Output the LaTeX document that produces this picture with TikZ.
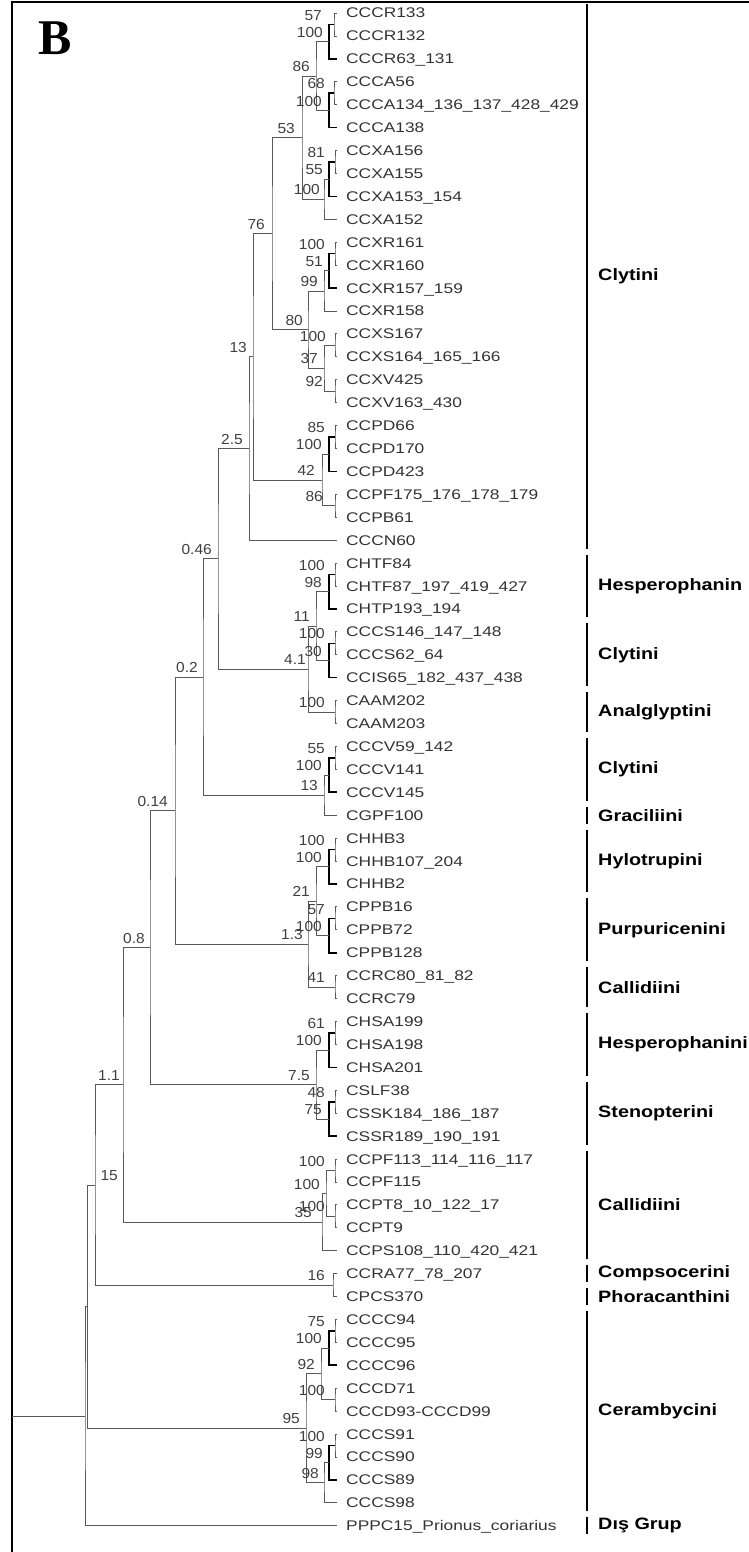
\documentclass[tikz,border=0pt]{standalone}
\usepackage{fontspec}
\setmainfont{Liberation Sans}
\newfontfamily\leaffont[FakeStretch=1.24]{Liberation Sans}
\newfontfamily\bsfont[FakeStretch=1.07]{Liberation Sans}
\newfontfamily\tribefont[FakeStretch=1.2]{Liberation Sans}
\newfontfamily\panelfont{Liberation Serif}

\begin{document}
\begin{tikzpicture}[x=1pt, y=-1pt,
  br/.style={draw=black!65, line width=0.8pt},
  tk/.style={draw=black, line width=1.6pt},
  leaf/.style={anchor=west, inner xsep=9pt, inner ysep=0pt, text height=10pt, text depth=0pt,
    text=black!80, font=\leaffont\fontsize{14}{14}\selectfont},
  bs/.style={anchor=south east, inner sep=0pt, text=black!75, font=\bsfont\fontsize{14.5}{14.5}\selectfont},
  tribe/.style={anchor=west, inner sep=0pt, font=\tribefont\bfseries\fontsize{16.5}{16.5}\selectfont},
  bar/.style={line width=2.5pt}]

  \useasboundingbox (0,0) rectangle (749,1552);
  \draw[line width=2.5pt] (12,1552) -- (12,2) -- (749,2);
  \node[anchor=base west, inner sep=0pt, font=\panelfont\bfseries\fontsize{50}{50}\selectfont] (panel) at (38,55) {B};

  % leaves
  \foreach \t [count=\i] in {CCCR133, CCCR132, CCCR63\_131, CCCA56, CCCA134\_136\_137\_428\_429,
      CCCA138, CCXA156, CCXA155, CCXA153\_154, CCXA152, CCXR161, CCXR160, CCXR157\_159,
      CCXR158, CCXS167, CCXS164\_165\_166, CCXV425, CCXV163\_430, CCPD66, CCPD170, CCPD423,
      CCPF175\_176\_178\_179, CCPB61, CCCN60, CHTF84, CHTF87\_197\_419\_427, CHTP193\_194,
      CCCS146\_147\_148, CCCS62\_64, CCIS65\_182\_437\_438, CAAM202, CAAM203, CCCV59\_142,
      CCCV141, CCCV145, CGPF100, CHHB3, CHHB107\_204, CHHB2, CPPB16, CPPB72, CPPB128,
      CCRC80\_81\_82, CCRC79, CHSA199, CHSA198, CHSA201, CSLF38, CSSK184\_186\_187,
      CSSR189\_190\_191, CCPF113\_114\_116\_117, CCPF115, CCPT8\_10\_122\_17, CCPT9,
      CCPS108\_110\_420\_421, CCRA77\_78\_207, CPCS370, CCCC94, CCCC95, CCCC96, CCCD71,
      CCCD93-CCCD99, CCCS91, CCCS90, CCCS89, CCCS98, PPPC15\_Prionus\_coriarius}
    \node[leaf] (L\i) at (337,{13+(\i-1)*22.92}) {\t};

  % internal nodes
  \coordinate (a1) at (334,24.46);   \coordinate (a2) at (329,41.65);
  \coordinate (b1) at (334,93.22);   \coordinate (b2) at (329,110.41);
  \coordinate (ab) at (316,76.03);
  \coordinate (c1) at (335,161.98);  \coordinate (c2) at (329,179.17);
  \coordinate (c3) at (324,199.23);  \coordinate (abc) at (302,137.63);
  \coordinate (d1) at (335,253.66);  \coordinate (d2) at (329,270.85);
  \coordinate (d3) at (324,290.91);
  \coordinate (e1) at (335,345.34);  \coordinate (e2) at (335,391.18);
  \coordinate (e3) at (324,368.26);  \coordinate (de) at (308,329.59);
  \coordinate (ae) at (272,233.61);
  \coordinate (f1) at (335,437.02);  \coordinate (f2) at (329,454.21);
  \coordinate (f3) at (335,505.78);  \coordinate (f4) at (322,480.0);
  \coordinate (g) at (253,356.8);    \coordinate (h) at (249,448.48);
  \coordinate (j1) at (335,574.54);  \coordinate (j2) at (329,591.73);
  \coordinate (k1) at (335,643.3);   \coordinate (k2) at (329,660.49);
  \coordinate (jk) at (316,626.11);  \coordinate (l1) at (335,712.06);
  \coordinate (jl) at (308,669.09);  \coordinate (i) at (218,558.78);
  \coordinate (n1) at (335,757.9);   \coordinate (n2) at (329,775.09);
  \coordinate (n3) at (324,795.15);  \coordinate (m) at (203,676.96);
  \coordinate (o1) at (335,849.58);  \coordinate (o2) at (329,866.77);
  \coordinate (p1) at (335,918.34);  \coordinate (p2) at (329,935.53);
  \coordinate (op) at (316,901.15);  \coordinate (q1) at (335,987.1);
  \coordinate (oq) at (308,944.13);  \coordinate (r) at (175,810.54);
  \coordinate (s1) at (335,1032.94); \coordinate (s2) at (329,1050.13);
  \coordinate (t1) at (335,1101.7);  \coordinate (t2) at (329,1118.89);
  \coordinate (st) at (316,1084.51); \coordinate (u) at (150,947.53);
  \coordinate (v1) at (335,1170.46); \coordinate (v2) at (335,1216.3);
  \coordinate (v3) at (326,1193.38); \coordinate (w) at (322,1222.03);
  \coordinate (xx) at (123,1084.78);
  \coordinate (y1) at (333,1285.06); \coordinate (z) at (95,1184.92);
  \coordinate (aa1) at (335,1330.9); \coordinate (aa2) at (329,1348.09);
  \coordinate (bb1) at (335,1399.66); \coordinate (cc) at (321,1373.88);
  \coordinate (dd1) at (335,1445.5); \coordinate (dd2) at (329,1462.69);
  \coordinate (dd3) at (324,1482.75); \coordinate (ee) at (306,1428.31);
  \coordinate (core) at (87.5,1306.62); \coordinate (root) at (85,1416.17);
  \coordinate (base) at (12,1416.17);

  % branches
  \draw[br] (L1.west) -| (a1) |- (L2.west);
  \draw[tk] (a1) -| (a2) |- (L3.west);
  \draw[br] (L4.west) -| (b1) |- (L5.west);
  \draw[tk] (b1) -| (b2) |- (L6.west);
  \draw[br] (a2) -| (ab) |- (b2);
  \draw[br] (L7.west) -| (c1) |- (L8.west);
  \draw[tk] (c1) -| (c2) |- (L9.west);
  \draw[br] (c2) -| (c3) |- (L10.west);
  \draw[br] (ab) -| (abc) |- (c3);
  \draw[br] (L11.west) -| (d1) |- (L12.west);
  \draw[tk] (d1) -| (d2) |- (L13.west);
  \draw[br] (d2) -| (d3) |- (L14.west);
  \draw[br] (L15.west) -| (e1) |- (L16.west);
  \draw[br] (L17.west) -| (e2) |- (L18.west);
  \draw[br] (e1) -| (e3) |- (e2);
  \draw[br] (d3) -| (de) |- (e3);
  \draw[br] (abc) -| (ae) |- (de);
  \draw[br] (L19.west) -| (f1) |- (L20.west);
  \draw[tk] (f1) -| (f2) |- (L21.west);
  \draw[br] (L22.west) -| (f3) |- (L23.west);
  \draw[br] (f2) -| (f4) |- (f3);
  \draw[br] (ae) -| (g) |- (f4);
  \draw[br] (g) -| (h) |- (L24.west);
  \draw[br] (L25.west) -| (j1) |- (L26.west);
  \draw[tk] (j1) -| (j2) |- (L27.west);
  \draw[br] (L28.west) -| (k1) |- (L29.west);
  \draw[tk] (k1) -| (k2) |- (L30.west);
  \draw[br] (j2) -| (jk) |- (k2);
  \draw[br] (L31.west) -| (l1) |- (L32.west);
  \draw[br] (jk) -| (jl) |- (l1);
  \draw[br] (h) -| (i) |- (jl);
  \draw[br] (L33.west) -| (n1) |- (L34.west);
  \draw[tk] (n1) -| (n2) |- (L35.west);
  \draw[br] (n2) -| (n3) |- (L36.west);
  \draw[br] (i) -| (m) |- (n3);
  \draw[br] (L37.west) -| (o1) |- (L38.west);
  \draw[tk] (o1) -| (o2) |- (L39.west);
  \draw[br] (L40.west) -| (p1) |- (L41.west);
  \draw[tk] (p1) -| (p2) |- (L42.west);
  \draw[br] (o2) -| (op) |- (p2);
  \draw[br] (L43.west) -| (q1) |- (L44.west);
  \draw[br] (op) -| (oq) |- (q1);
  \draw[br] (m) -| (r) |- (oq);
  \draw[br] (L45.west) -| (s1) |- (L46.west);
  \draw[tk] (s1) -| (s2) |- (L47.west);
  \draw[br] (L48.west) -| (t1) |- (L49.west);
  \draw[tk] (t1) -| (t2) |- (L50.west);
  \draw[br] (s2) -| (st) |- (t2);
  \draw[br] (r) -| (u) |- (st);
  \draw[br] (L51.west) -| (v1) |- (L52.west);
  \draw[br] (L53.west) -| (v2) |- (L54.west);
  \draw[br] (v1) -| (v3) |- (v2);
  \draw[br] (v3) -| (w) |- (L55.west);
  \draw[br] (u) -| (xx) |- (w);
  \draw[br] (L56.west) -| (y1) |- (L57.west);
  \draw[br] (xx) -| (z) |- (y1);
  \draw[br] (L58.west) -| (aa1) |- (L59.west);
  \draw[tk] (aa1) -| (aa2) |- (L60.west);
  \draw[br] (L61.west) -| (bb1) |- (L62.west);
  \draw[br] (aa2) -| (cc) |- (bb1);
  \draw[br] (L63.west) -| (dd1) |- (L64.west);
  \draw[tk] (dd1) -| (dd2) |- (L65.west);
  \draw[br] (dd2) -| (dd3) |- (L66.west);
  \draw[br] (cc) -| (ee) |- (dd3);
  \draw[br] (z) -| (core) |- (ee);
  \draw[br] (core) -| (root) |- (L67.west);
  \draw[br] (base) -- (root);

  % support values
  \foreach \n/\v/\d in {a1/57/12, a2/100/6, b1/68/9, b2/100/7, ab/86/6, c1/81/10, c2/55/6,
      c3/100/4, abc/53/7, d1/100/10, d2/51/6, d3/99/6, e1/100/9, e2/92/12, e3/37/6, de/80/5,
      ae/76/7, f1/85/10, f2/100/7, f3/86/12, f4/42/7, g/13/6, h/2.5/6, j1/100/10, j2/98/7,
      k1/100/10, k2/30/7, jk/11/6, l1/100/10, jl/4.1/2, i/0.46/6, n1/55/10, n2/100/7,
      n3/13/6, m/0.2/5, o1/100/10, o2/100/7, p1/57/10, p2/100/7, op/21/6, q1/41/10,
      oq/1.3/5, r/0.14/7, s1/61/10, s2/100/7, t1/48/10, t2/75/7, st/7.5/6, u/0.8/5,
      v1/100/10, v2/100/10, v3/100/6, w/35/10, xx/1.1/3, y1/16/8, z/15/-23, aa1/75/10,
      aa2/100/7, bb1/100/10, cc/92/6, dd1/100/10, dd2/99/6, dd3/98/5, ee/95/6}
    \node[bs] (s-\n) at ([xshift={-\d*1pt}, yshift=4pt]\n) {\v};

  % tribes
  \foreach \f/\l/\t in {1/24/Clytini, 25/27/Hesperophanin, 28/30/Clytini, 31/32/Analglyptini,
      33/35/Clytini, 36/36/Graciliini, 37/39/Hylotrupini, 40/42/Purpuricenini,
      43/44/Callidiini, 45/47/Hesperophanini, 48/50/Stenopterini, 51/55/Callidiini,
      56/56/Compsocerini, 57/57/Phoracanthini, 58/66/Cerambycini, 67/67/Dış Grup} {
    \draw[bar] (587,{13+(\f-1)*22.92-8.5}) -- (587,{13+(\l-1)*22.92+8.5});
    \node[tribe] (T\f) at (598,{13+(\f+\l-2)*11.46}) {\t};
  }
\end{tikzpicture}
\end{document}
